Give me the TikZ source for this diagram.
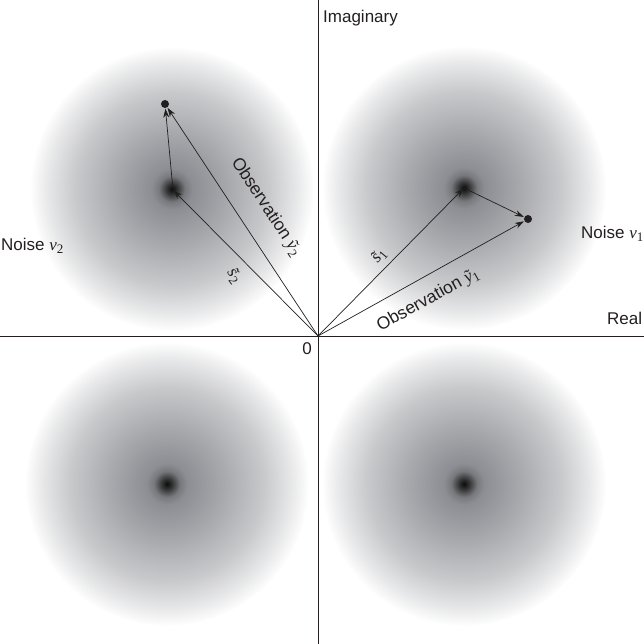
\documentclass[tikz,border=0pt]{standalone}
\usepackage{fontspec}
\setmainfont{Liberation Sans}
\newfontfamily\symfont{Liberation Serif}
\usetikzlibrary{arrows.meta}
\definecolor{ink}{HTML}{231F20}
\definecolor{haze}{HTML}{8C8E93}
\pgfdeclareradialshading{noisecloud}{\pgfpoint{0bp}{0bp}}{%
  color(0bp)=(black!95);
  color(0.8bp)=(black!82);
  color(2.3bp)=(haze!85!black);
  color(3.6bp)=(haze);
  color(10bp)=(haze!76);
  color(17bp)=(haze!48);
  color(22bp)=(haze!20);
  color(24.5bp)=(haze!4);
  color(25bp)=(white);
  color(50bp)=(white)}
\newcommand{\sym}[2]{{\symfont\itshape #1}\raisebox{-0.35ex}{\symfont\fontsize{13}{14}\selectfont #2}}
\tikzset{
  >={Stealth[length=9pt,width=6pt]},
  axis/.style={draw=ink, line width=0.9pt},
  vec/.style={->, draw=ink, line width=0.7pt, shorten >=0.5pt},
  lbl/.style={font=\fontsize{17}{19}\selectfont, text=ink, inner sep=1pt},
  obs/.style={lbl, font=\fontsize{17.5}{19}\selectfont},
  cloud/.style={shading=noisecloud},
  dot/.style={circle, fill=ink, inner sep=0pt, minimum size=8pt},
}
\begin{document}
\begin{tikzpicture}[x=1pt,y=-1pt]
  \useasboundingbox (0,0) rectangle (644,644);
  % noise round each signal point
  \foreach \cx/\cy in {172/189,464/188,167/484,464/484}
    \shade[cloud] (\cx,\cy) circle (142);
  % axes
  \coordinate (o) at (318,336);
  \coordinate (xl) at (0,336);
  \coordinate (xr) at (644,336);
  \coordinate (yt) at (318,0);
  \coordinate (yb) at (318,644);
  \draw[axis] (xl) -- (xr);
  \draw[axis] (yt) -- (yb);
  \node[lbl, anchor=west] (im) at (322,18) {Imaginary};
  \node[lbl, anchor=west] (re) at (606,318) {Real};
  \node[lbl] (zero) at (307,349) {0};
  % signal points and observations
  \coordinate (s1) at (464,188);
  \coordinate (s2) at (173,190);
  \node[dot] (y1) at (528,219) {};
  \node[dot] (y2) at (165,104) {};
  \draw[vec] (o) -- (s1);
  \draw[vec] (s1) -- (y1);
  \draw[vec] (o) -- (y1);
  \draw[vec] (o) -- (s2);
  \draw[vec] (s2) -- (y2);
  \draw[vec] (o) -- (y2);
  % labels
  \node[lbl, anchor=west] (n2) at (0,246) {Noise \sym{v}{2}};
  \node[lbl, anchor=west] (n1) at (580,234) {Noise \sym{v}{1}};
  \node[obs, rotate=-56.6] (ly2) at (266,207) {Observation \sym{\~y}{2}};
  \node[obs, rotate=29] (ly1) at (428,300) {Observation \sym{\~y}{1}};
  \node[obs, rotate=-55] (ls2) at (234,276) {\sym{\~s}{2}};
  \node[obs, rotate=50] (ls1) at (379,256) {\sym{\~s}{1}};
\end{tikzpicture}
\end{document}
